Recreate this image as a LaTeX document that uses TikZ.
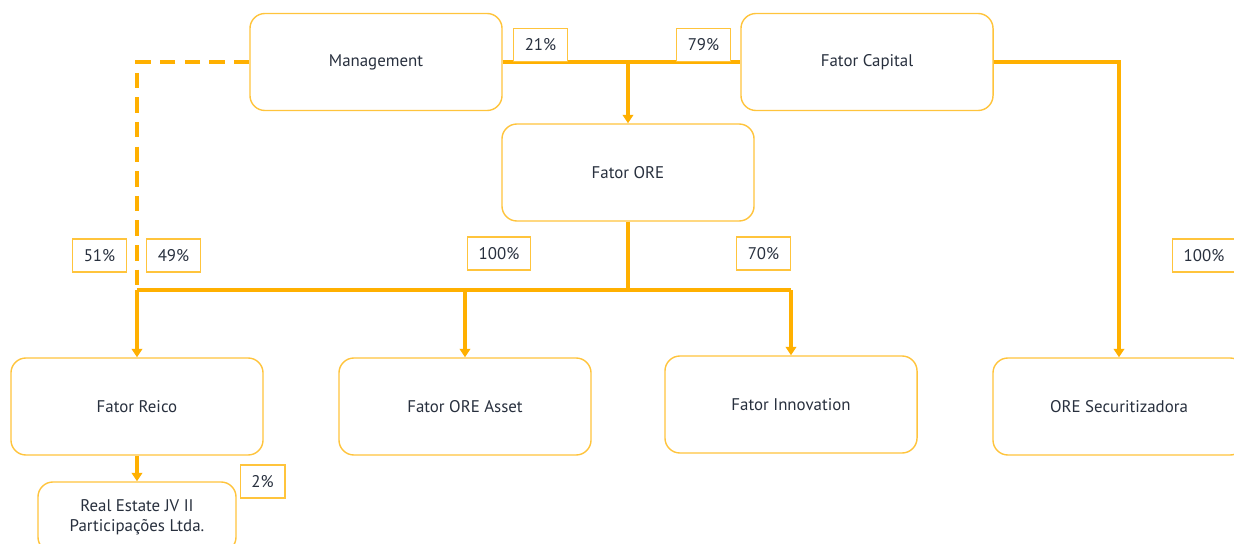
\documentclass[tikz,border=0pt]{standalone}
\usepackage{fontspec}
\setmainfont{PT Sans}
\usetikzlibrary{calc}
\usetikzlibrary{arrows.meta}
\definecolor{linkorange}{RGB}{255,176,0}
\definecolor{boxorange}{RGB}{255,196,60}
\definecolor{txtgrey}{RGB}{40,48,62}

\begin{document}
\begin{tikzpicture} [x=0.025cm, y=-0.025cm, font=\fontsize{12}{14}\selectfont, text=txtgrey,
  entity/.style={draw=boxorange, line width=1pt, rounded corners=0.375cm, fill=white,
    minimum width=6.3cm, minimum height=2.425cm, align=center},
  share/.style={draw=boxorange, line width=0.9pt, fill=white, inner xsep=8pt,
    minimum height=0.825cm},
  link/.style={linkorange, line width=2.3pt, >={Triangle[length=6pt,width=7.5pt]}}]
\clip (0,0) rectangle (1234,544);
\useasboundingbox (0,0) rectangle (1234,544);
% companies
\node[entity] (mgmt)  at (376,62)    {Management};
\node[entity] (fcap)  at (867,62)    {Fator Capital};
\node[entity] (fore)  at (628,172.5) {Fator ORE};
\node[entity] (reico) at (137,406.5) {Fator Reico};
\node[entity] (asset) at (465,406.5) {Fator ORE Asset};
\node[entity] (inno)  at (791,404.5) {Fator Innovation};
\node[entity] (ores)  at (1119,406.5) {ORE Securitizadora};
\node[entity, minimum width=4.95cm, minimum height=1.75cm] (rejv) at (137,517)
  {Real Estate JV II\\Participações Ltda.};
\coordinate (top) at (fore.north |- mgmt.east);
\coordinate (bus) at (628,290);
% connectors
\draw[link] (mgmt.east) -- (fcap.west);
\draw[link,->] (top) -- (fore.north);
\draw[link, dash pattern=on 11pt off 6.5pt] (mgmt.west) -| (reico.north |- bus);
\draw[link] (fore.south) -- (bus);
\draw[link] (reico.north |- bus) -- (inno.north |- bus);
\foreach \n in {reico, asset, inno} {
 \draw[link,->] (\n.north |- bus) -- (\n.north);
}
\draw[link,->] (fcap.east) -| (ores.north);
\draw[link,->] (reico.south) -- (rejv.north);
% shares
\node[share] (s21)  at (540.5,45)   {21\%};
\node[share] (s79)  at (703.5,45)   {79\%};
\node[share] (s51)  at (99.5,255.5) {51\%};
\node[share] (s49)  at (173.5,255.5) {49\%};
\node[share] (s100) at (499,253.5)  {100\%};
\node[share] (s70)  at (763.5,253.5) {70\%};
\node[share] (s100r) at (1204,255.5) {100\%};
\node[share] (s2)   at (262.5,481.5) {2\%};
\end{tikzpicture}
\end{document}
